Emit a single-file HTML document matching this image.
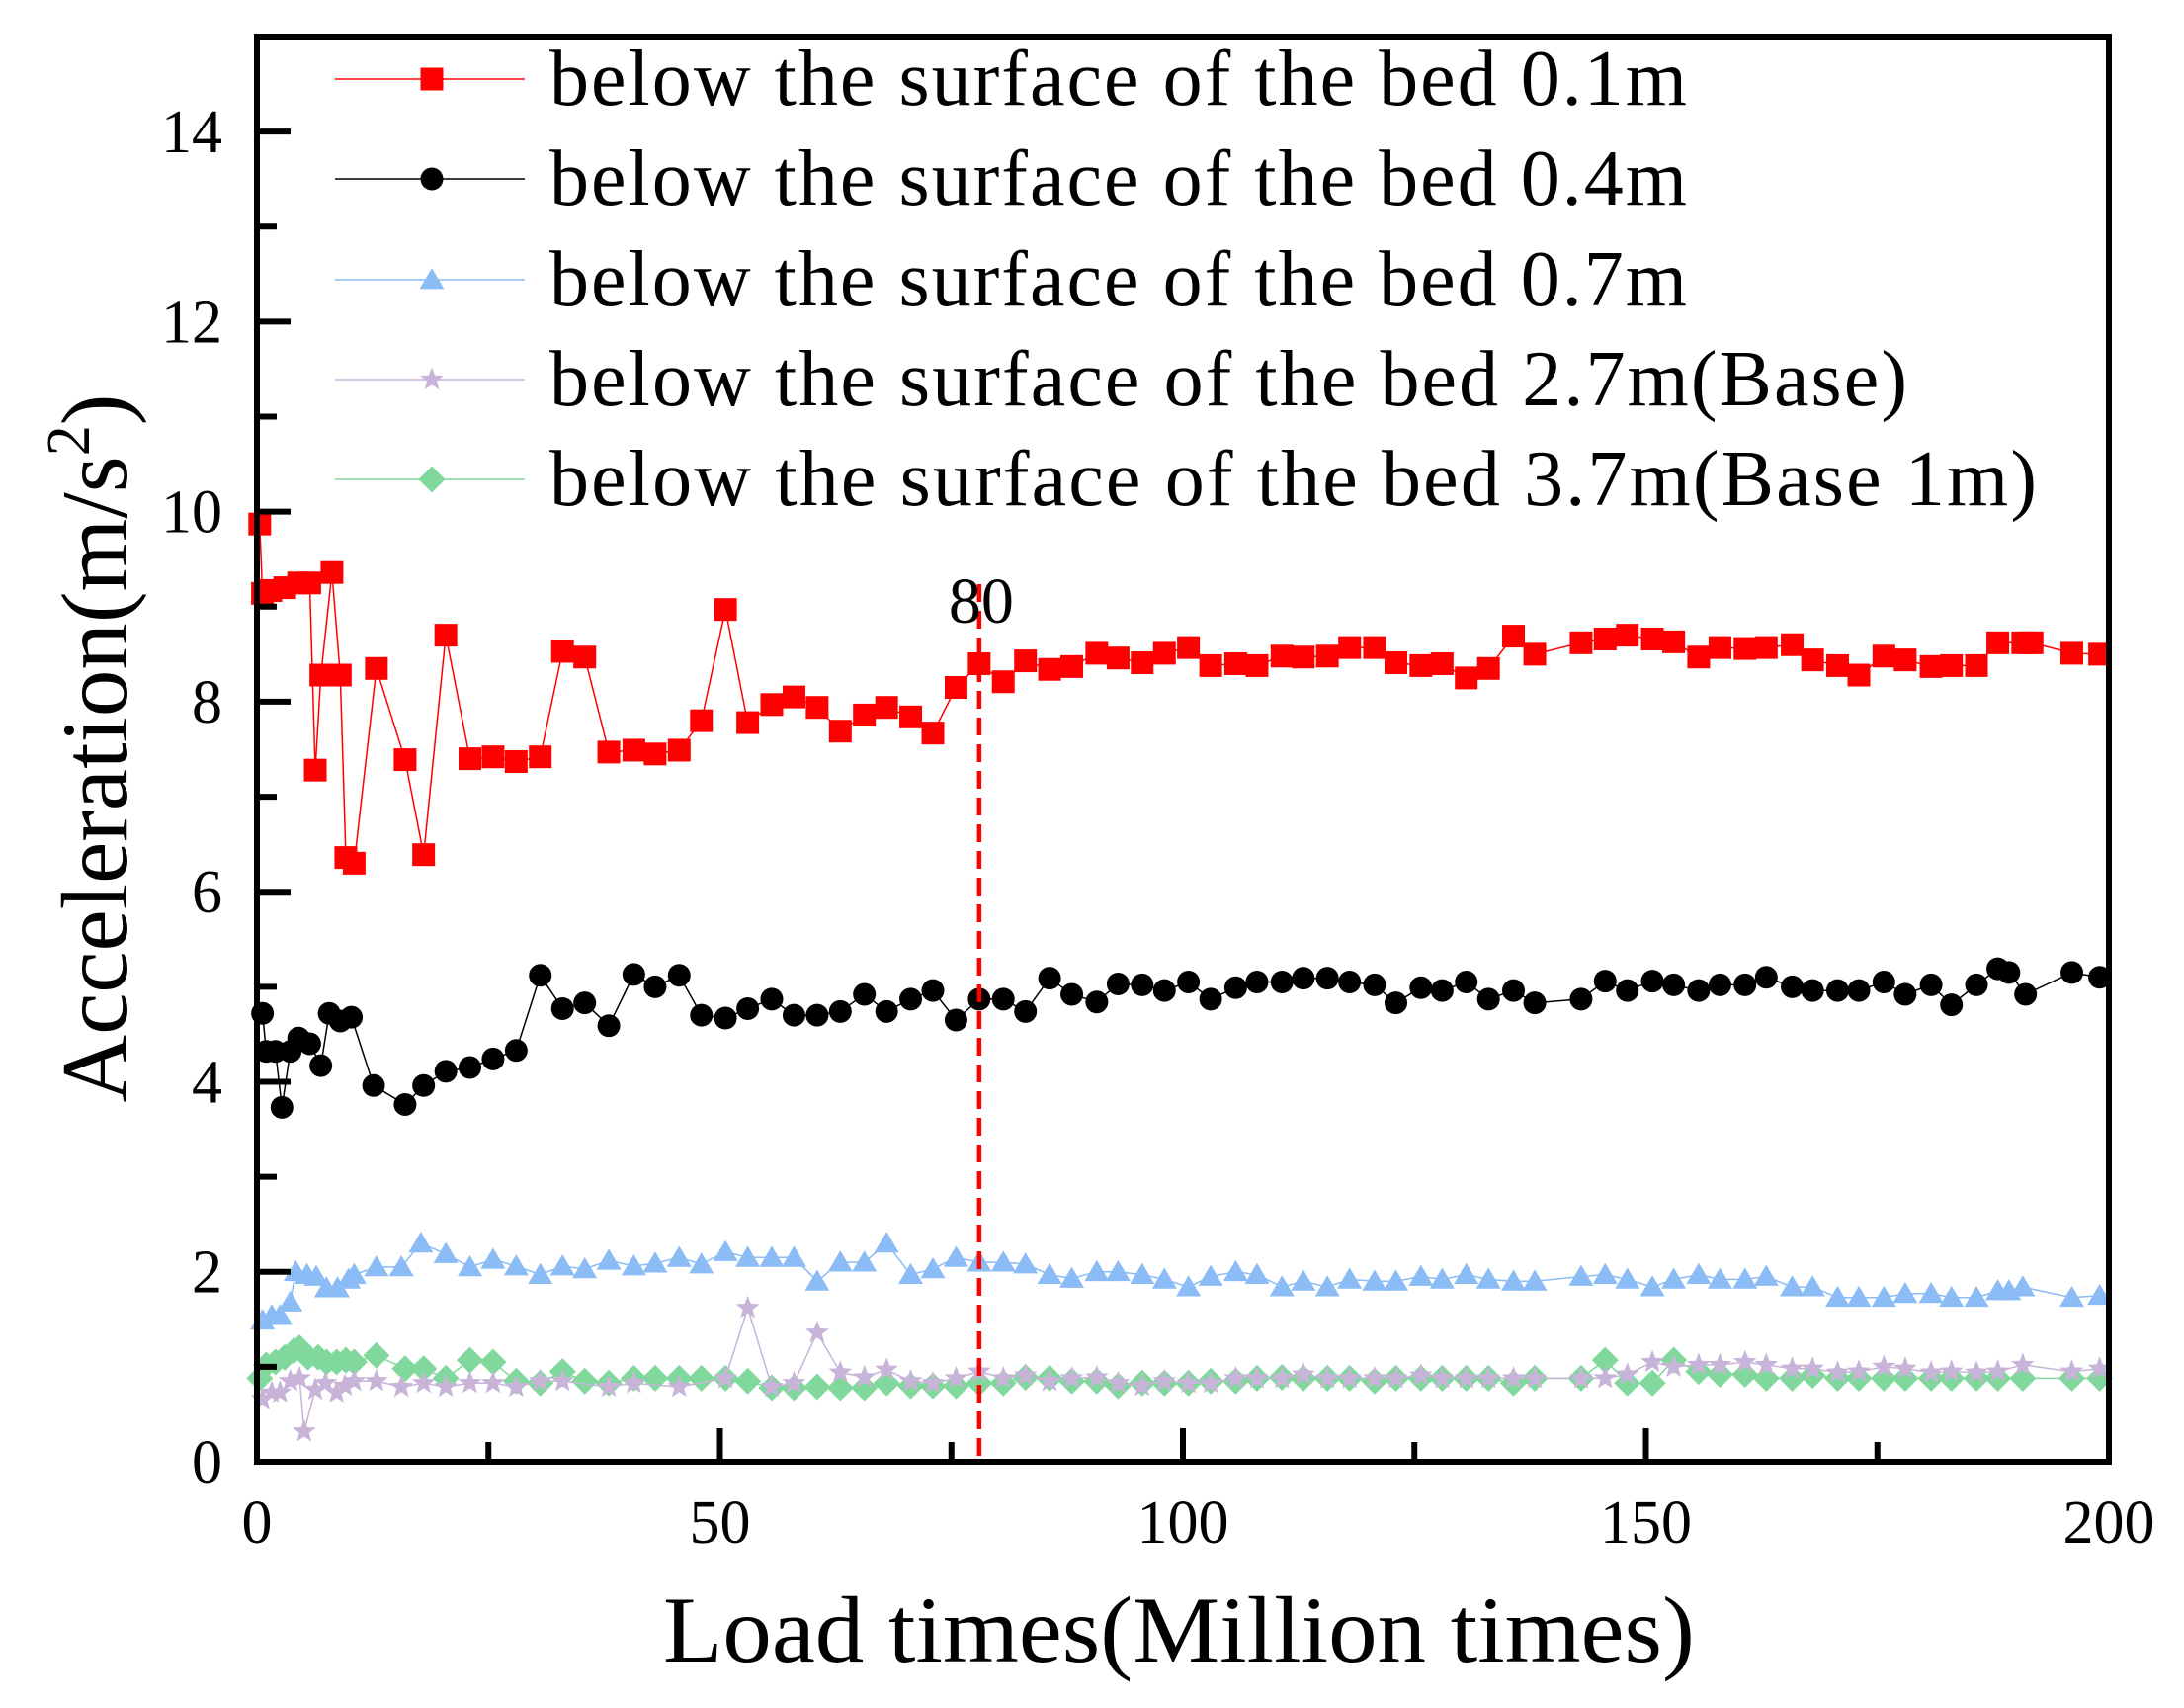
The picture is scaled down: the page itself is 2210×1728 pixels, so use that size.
<!DOCTYPE html>
<html><head><meta charset="utf-8"><style>html,body{margin:0;padding:0;background:#fff}svg{display:block}</style></head>
<body>
<svg id="chart" width="2210" height="1728" viewBox="0 0 2210 1728" xmlns="http://www.w3.org/2000/svg" font-family="'Liberation Serif', serif">
<g id="series"></g>
<g id="axes"></g>
<g id="legend"></g>
</svg>
<script>
const xTicks = [0, 50, 100, 150, 200];
const xTickLabels = ["0", "50", "100", "150", "200"];
const yTicks = [0, 2, 4, 6, 8, 10, 12, 14];
const yTickLabels = ["0", "2", "4", "6", "8", "10", "12", "14"];
const markerX = 78;
const markerLabel = "80";
const seriesNames = ["below the surface of the bed 0.1m","below the surface of the bed 0.4m","below the surface of the bed 0.7m","below the surface of the bed 2.7m(Base)","below the surface of the bed 3.7m(Base 1m)"];

const red01 = [[0.3,9.87],[0.6,9.14],[1.5,9.17],[3,9.2],[4.5,9.25],[5.7,9.25],[6.3,7.28],[6.9,8.28],[8.1,9.36],[9,8.28],[9.6,6.36],[10.5,6.3],[12.9,8.35],[16,7.39],[18,6.39],[20.4,8.7],[23,7.4],[25.5,7.42],[28,7.37],[30.6,7.42],[33,8.53],[35.4,8.47],[38,7.47],[40.7,7.49],[43,7.45],[45.6,7.49],[48,7.8],[50.6,8.97],[53,7.78],[55.6,7.97],[58,8.05],[60.5,7.94],[63,7.69],[65.6,7.86],[68,7.94],[70.6,7.84],[73,7.67],[75.5,8.15],[78,8.4],[80.6,8.21],[83,8.43],[85.6,8.34],[88,8.37],[90.7,8.51],[93,8.46],[95.6,8.41],[98,8.51],[100.6,8.57],[103,8.38],[105.7,8.4],[108,8.38],[110.7,8.48],[113,8.47],[115.6,8.48],[118,8.57],[120.7,8.57],[123,8.41],[125.7,8.38],[128,8.4],[130.6,8.25],[133,8.35],[135.7,8.69],[138,8.5],[143,8.62],[145.6,8.66],[148,8.7],[150.7,8.66],[153,8.63],[155.7,8.47],[158,8.57],[160.7,8.56],[163,8.57],[165.8,8.6],[168,8.44],[170.7,8.38],[173,8.28],[175.7,8.48],[178,8.44],[180.8,8.37],[183,8.38],[185.7,8.38],[188,8.62],[190.7,8.62],[191.7,8.62],[196,8.51],[199,8.5]];
const black04 = [[0.6,4.72],[1,4.32],[2,4.32],[2.7,3.73],[3.6,4.32],[4.5,4.46],[5.7,4.4],[6.9,4.17],[7.8,4.72],[9,4.64],[10.2,4.68],[12.6,3.96],[16,3.76],[18,3.96],[20.4,4.11],[23,4.15],[25.5,4.24],[28,4.33],[30.6,5.12],[33,4.77],[35.4,4.83],[38,4.59],[40.7,5.13],[43,5.0],[45.6,5.12],[48,4.7],[50.6,4.67],[53,4.77],[55.6,4.87],[58,4.7],[60.5,4.7],[63,4.74],[65.6,4.92],[68,4.74],[70.6,4.87],[73,4.96],[75.5,4.65],[78,4.87],[80.6,4.87],[83,4.74],[85.6,5.09],[88,4.92],[90.7,4.84],[93,5.03],[95.6,5.02],[98,4.96],[100.6,5.05],[103,4.87],[105.7,4.99],[108,5.05],[110.7,5.05],[113,5.09],[115.6,5.09],[118,5.05],[120.7,5.02],[123,4.83],[125.7,4.99],[128,4.96],[130.6,5.05],[133,4.87],[135.7,4.96],[138,4.83],[143,4.87],[145.6,5.06],[148,4.96],[150.7,5.06],[153,5.02],[155.7,4.96],[158,5.02],[160.7,5.02],[163,5.1],[165.8,5.0],[168,4.96],[170.7,4.96],[173,4.96],[175.7,5.05],[178,4.92],[180.8,5.02],[183,4.81],[185.7,5.02],[188,5.19],[189.2,5.15],[191,4.92],[196,5.15],[199,5.1]];
const blue07 = [[0.6,1.49],[1.6,1.54],[2.5,1.54],[3.6,1.68],[4.2,2.0],[5.4,1.97],[6.4,1.95],[7.5,1.83],[8.7,1.83],[9.9,1.92],[10.5,1.97],[12.9,2.05],[15.6,2.05],[17.7,2.3],[20.4,2.19],[23,2.05],[25.5,2.13],[28,2.06],[30.6,1.97],[33,2.06],[35.4,2.03],[38,2.12],[40.7,2.06],[43,2.09],[45.6,2.15],[48,2.08],[50.6,2.21],[53,2.15],[55.6,2.15],[58,2.15],[60.5,1.9],[63,2.1],[65.6,2.1],[68,2.3],[70.6,1.97],[73,2.03],[75.5,2.15],[78,2.1],[80.6,2.1],[83,2.08],[85.6,1.97],[88,1.93],[90.7,2.0],[93,2.0],[95.6,1.97],[98,1.92],[100.6,1.84],[103,1.95],[105.7,2.0],[108,1.97],[110.7,1.84],[113,1.9],[115.6,1.84],[118,1.92],[120.7,1.9],[123,1.9],[125.7,1.95],[128,1.92],[130.6,1.97],[133,1.92],[135.7,1.9],[138,1.9],[143,1.95],[145.6,1.97],[148,1.92],[150.7,1.84],[153,1.92],[155.7,1.97],[158,1.92],[160.7,1.92],[163,1.95],[165.8,1.84],[168,1.84],[170.7,1.73],[173,1.73],[175.7,1.73],[178,1.77],[180.8,1.77],[183,1.73],[185.7,1.73],[188,1.8],[189.2,1.8],[190.7,1.84],[196,1.73],[199,1.75]];
const purple27 = [[0.6,0.66],[1.6,0.73],[2.5,0.73],[3.6,0.85],[4.6,0.88],[5.1,0.32],[6.3,0.76],[7.4,0.83],[8.6,0.73],[9.5,0.8],[10.5,0.85],[12.9,0.85],[15.6,0.79],[18,0.83],[20.4,0.79],[23,0.83],[25.5,0.83],[28,0.79],[30.6,0.85],[33,0.85],[38,0.79],[40.7,0.83],[45.6,0.79],[50.6,0.88],[53,1.62],[55.6,0.79],[58,0.83],[60.5,1.36],[63,0.94],[65.6,0.89],[68,0.97],[70.6,0.85],[73,0.83],[75.5,0.88],[78,0.95],[80.6,0.88],[83,0.91],[85.6,0.85],[88,0.88],[90.7,0.89],[93,0.83],[95.6,0.8],[98,0.85],[100.6,0.83],[103,0.83],[105.7,0.88],[108,0.88],[110.7,0.88],[113,0.92],[115.6,0.88],[118,0.88],[120.7,0.88],[123,0.88],[125.7,0.91],[128,0.88],[130.6,0.88],[133,0.88],[135.7,0.88],[138,0.88],[143,0.88],[145.6,0.88],[148,0.92],[150.7,1.05],[153,1.0],[155.7,1.02],[158,1.02],[160.7,1.05],[163,1.02],[165.8,0.98],[168,0.98],[170.7,0.94],[173,0.95],[175.7,1.0],[178,0.98],[180.8,0.94],[183,0.95],[185.7,0.94],[188,0.95],[190.7,1.02],[196,0.95],[199,0.98]];
const green37 = [[0.3,0.88],[1,1.02],[2,1.05],[3,1.1],[4,1.17],[4.6,1.2],[5.5,1.1],[6.6,1.1],[7.5,1.05],[8.6,1.05],[9.6,1.07],[10.5,1.05],[12.9,1.12],[16,0.98],[18,0.98],[20.4,0.88],[23,1.07],[25.5,1.05],[28,0.85],[30.6,0.83],[33,0.95],[35.4,0.85],[38,0.83],[40.7,0.88],[43,0.88],[45.6,0.88],[48,0.88],[50.6,0.88],[53,0.85],[55.6,0.78],[58,0.78],[60.5,0.79],[63,0.78],[65.6,0.78],[68,0.83],[70.6,0.8],[73,0.8],[75.5,0.8],[78,0.83],[80.6,0.83],[83,0.89],[85.6,0.88],[88,0.85],[90.7,0.85],[93,0.8],[95.6,0.83],[98,0.83],[100.6,0.83],[103,0.85],[105.7,0.85],[108,0.88],[110.7,0.89],[113,0.88],[115.6,0.88],[118,0.88],[120.7,0.85],[123,0.88],[125.7,0.88],[128,0.88],[130.6,0.88],[133,0.88],[135.7,0.83],[138,0.88],[143,0.88],[145.6,1.07],[148,0.83],[150.7,0.83],[153,1.07],[155.7,0.95],[158,0.92],[160.7,0.92],[163,0.88],[165.8,0.88],[168,0.91],[170.7,0.88],[173,0.88],[175.7,0.88],[178,0.88],[180.8,0.88],[183,0.88],[185.7,0.88],[188,0.88],[190.7,0.88],[196,0.88],[199,0.88]];

const NS = "http://www.w3.org/2000/svg";
const X0 = 260, X1 = 2134, Y0 = 1479, YT = 37;
const XMAX = 200, YMAX = 15;
function sx(v){ return X0 + (X1 - X0) * v / XMAX; }
function sy(v){ return Y0 - (Y0 - YT) * v / YMAX; }
function mk(tag, attrs, parent){ const e = document.createElementNS(NS, tag); for (const k in attrs) e.setAttribute(k, attrs[k]); parent.appendChild(e); return e; }

const styles = [
  {color:"#ff0000", shape:"square", size:23, lw:1.5},
  {color:"#000000", shape:"circle", size:23, lw:1.5},
  {color:"#8bbcf5", shape:"triangle", size:25, lw:1.5},
  {color:"#c8b4d8", shape:"star", size:25, lw:1.5},
  {color:"#80d89c", shape:"diamond", size:27, lw:1.5}
];
const allSeries = [red01, black04, blue07, purple27, green37];
const seriesKeys = ["series-0-1m","series-0-4m","series-0-7m","series-2-7m","series-3-7m"];

function marker(parent, shape, cx, cy, s, color){
  let e;
  const h = s/2;
  if (shape === "square") e = mk("rect", {x:cx-h, y:cy-h, width:s, height:s, fill:color}, parent);
  else if (shape === "circle") e = mk("circle", {cx:cx, cy:cy, r:h, fill:color}, parent);
  else if (shape === "triangle") e = mk("polygon", {points:`${cx},${cy-h*0.95} ${cx+h},${cy+h*0.75} ${cx-h},${cy+h*0.75}`, fill:color}, parent);
  else if (shape === "diamond") e = mk("polygon", {points:`${cx},${cy-h} ${cx+h},${cy} ${cx},${cy+h} ${cx-h},${cy}`, fill:color}, parent);
  else {
    let pts = [];
    for (let i = 0; i < 10; i++){ const r = i%2===0 ? h : h*0.42; const a = -Math.PI/2 + i*Math.PI/5; pts.push((cx+r*Math.cos(a)).toFixed(1)+","+(cy+r*Math.sin(a)).toFixed(1)); }
    e = mk("polygon", {points:pts.join(" "), fill:color}, parent);
  }
  return e;
}

const gS = document.getElementById("series");
for (let si = allSeries.length - 1; si >= 0; si--){
  const data = allSeries[si], st = styles[si];
  const g = mk("g", {}, gS);
  
  
  const line = mk("polyline", {points:data.map(p => sx(p[0]).toFixed(1)+","+sy(p[1]).toFixed(1)).join(" "), fill:"none", stroke:st.color, "stroke-width":st.lw}, g);
  
  
  data.forEach(p => {
    const m = marker(g, st.shape, sx(p[0]), sy(p[1]), st.size, st.color);
    
    
  });
}

const dl = mk("line", {x1:sx(markerX), x2:sx(markerX), y1:591, y2:Y0, stroke:"#ff0000", "stroke-width":4.5, "stroke-dasharray":"18,9"}, gS);


const dlt = mk("text", {x:sx(markerX)+2, y:630, "font-size":66, "text-anchor":"middle", fill:"#000"}, gS);
dlt.textContent = markerLabel;



const gA = document.getElementById("axes");
const frame = mk("rect", {x:X0, y:YT, width:X1-X0, height:Y0-YT, fill:"none", stroke:"#000", "stroke-width":6}, gA);


for (let v = 0; v <= XMAX; v += 25){
  const major = v % 50 === 0;
  const t = mk("line", {x1:sx(v), x2:sx(v), y1:Y0, y2:Y0-(major?34:20), stroke:"#000", "stroke-width":6}, gA);
  
  
}
xTicks.forEach((v, i) => {
  const t = mk("text", {x:sx(v), y:1561, "font-size":62, "text-anchor":"middle", fill:"#000"}, gA);
  t.textContent = xTickLabels[i];
  
  
});
for (let v = 0; v <= 14; v += 1){
  const major = v % 2 === 0;
  const t = mk("line", {x1:X0, x2:X0+(major?34:20), y1:sy(v), y2:sy(v), stroke:"#000", "stroke-width":6}, gA);
  
  
}
yTicks.forEach((v, i) => {
  const t = mk("text", {x:225, y:sy(v)+21, "font-size":62, "text-anchor":"end", fill:"#000"}, gA);
  t.textContent = yTickLabels[i];
  
  
});
</script>
<script>
(function(){
const gA = document.getElementById("axes");
const NS = "http://www.w3.org/2000/svg";
const xt = document.createElementNS(NS, "text");
xt.setAttribute("x", 1193); xt.setAttribute("y", 1681);
xt.setAttribute("font-size", 95); xt.setAttribute("text-anchor", "middle");
xt.setAttribute("textLength", 1044); xt.setAttribute("lengthAdjust", "spacingAndGlyphs");
xt.textContent = "Load times(Million times)";


gA.appendChild(xt);
const yt = document.createElementNS(NS, "text");
yt.setAttribute("transform", "translate(128,757) rotate(-90)");
yt.setAttribute("font-size", 95); yt.setAttribute("text-anchor", "middle");
yt.innerHTML = 'Acceleration(m/s<tspan dy="-38" font-size="62">2</tspan><tspan dy="38">)</tspan>';


gA.appendChild(yt);

const gL = document.getElementById("legend");
const lens = [1151, 1151, 1151, 1374, 1505];
const rows = [80, 181, 283, 384, 485];
seriesNames.forEach((name, i) => {
  const st = styles[i];
  const g = document.createElementNS(NS, "g");
  
  
  gL.appendChild(g);
  const y = rows[i];
  const ln = document.createElementNS(NS, "line");
  ln.setAttribute("x1", 339); ln.setAttribute("x2", 531); ln.setAttribute("y1", y); ln.setAttribute("y2", y);
  ln.setAttribute("stroke", st.color); ln.setAttribute("stroke-width", 1.5);
  
  
  g.appendChild(ln);
  const m = marker(g, st.shape, 437, y, st.size, st.color);
  
  
  const t = document.createElementNS(NS, "text");
  t.setAttribute("x", 556); t.setAttribute("y", y + 26);
  t.setAttribute("font-size", 80);
  t.setAttribute("textLength", lens[i]); t.setAttribute("lengthAdjust", "spacing");
  t.textContent = name;
  
  
  g.appendChild(t);
});
})();
</script>
</body></html>
